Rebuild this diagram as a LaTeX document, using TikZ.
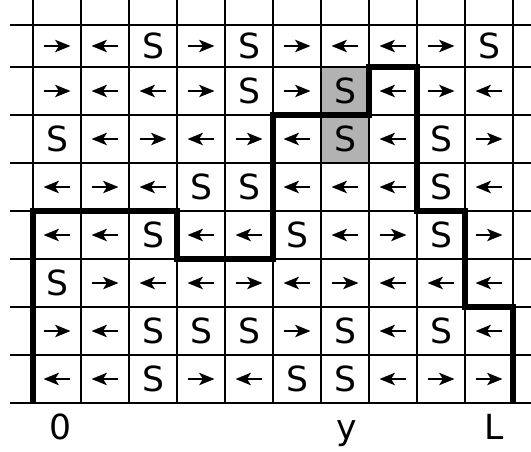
\documentclass[tikz,border=0pt]{standalone}
\usepackage{fontspec}
\setmainfont{DejaVu Sans}
\usetikzlibrary{arrows.meta}

\begin{document}
\begin{tikzpicture}[
    gridline/.style={line width=0.9pt},
    wall/.style={line width=3.6pt,line join=miter},
    marked/.style={fill=gray!60},
    letter/.style={font=\fontsize{20.5}{24}\selectfont,inner sep=0pt},
    arrow/.style={-{Stealth[length=3.2mm,width=2.6mm,inset=0.8mm]},line width=0.7pt}]
  \useasboundingbox (-0.6875,-1.02) rectangle (10.375,8.396);
  % shaded cells
  \fill[marked] (6,5) rectangle (7,7);
  % grid
  \foreach \x in {0,...,10}
    \draw[gridline] (\x,0) -- (\x,8.396);
  \foreach \y in {0,...,7,7.875}
    \draw[gridline] (-0.48,\y) -- (10.375,\y);
  % cells: r = right, l = left, s = S
  \foreach \row [count=\j] in {
      {r,l,s,r,s,r,l,l,r,s},
      {r,l,l,r,s,r,s,l,r,l},
      {s,l,r,l,r,l,s,l,s,r},
      {l,r,l,s,s,l,l,l,s,l},
      {l,l,s,l,l,s,l,r,s,r},
      {s,r,l,l,r,l,r,l,l,l},
      {r,l,s,s,s,r,s,l,s,l},
      {l,l,s,r,l,s,s,l,r,r}}{
    \pgfmathsetmacro\yc{\j==1 ? 7.4375 : 8.5-\j}
    \foreach \c [count=\i] in \row {
      \coordinate (c\i-\j) at (\i-0.5,\yc);
      \if\c s \node[letter] (s\i-\j) at (c\i-\j) {S};\fi
      \if\c r \draw[arrow] ([xshift=-0.28cm]c\i-\j) -- ([xshift=0.28cm]c\i-\j);\fi
      \if\c l \draw[arrow] ([xshift=0.28cm]c\i-\j) -- ([xshift=-0.28cm]c\i-\j);\fi
    }
  }
  % boundary
  \draw[wall] (0,0) -- (0,4) -- (3,4) -- (3,3) -- (5,3) -- (5,6) -- (7,6)
    -- (7,7) -- (8,7) -- (8,4) -- (9,4) -- (9,2) -- (10,2) -- (10,0);
  % axis labels
  \node[letter,anchor=base] (zero) at (0.58,-0.77) {0};
  \node[letter,anchor=base] (ypos) at (6.54,-0.77) {y};
  \node[letter,anchor=base] (len) at (9.6,-0.77) {L};
\end{tikzpicture}
\end{document}
